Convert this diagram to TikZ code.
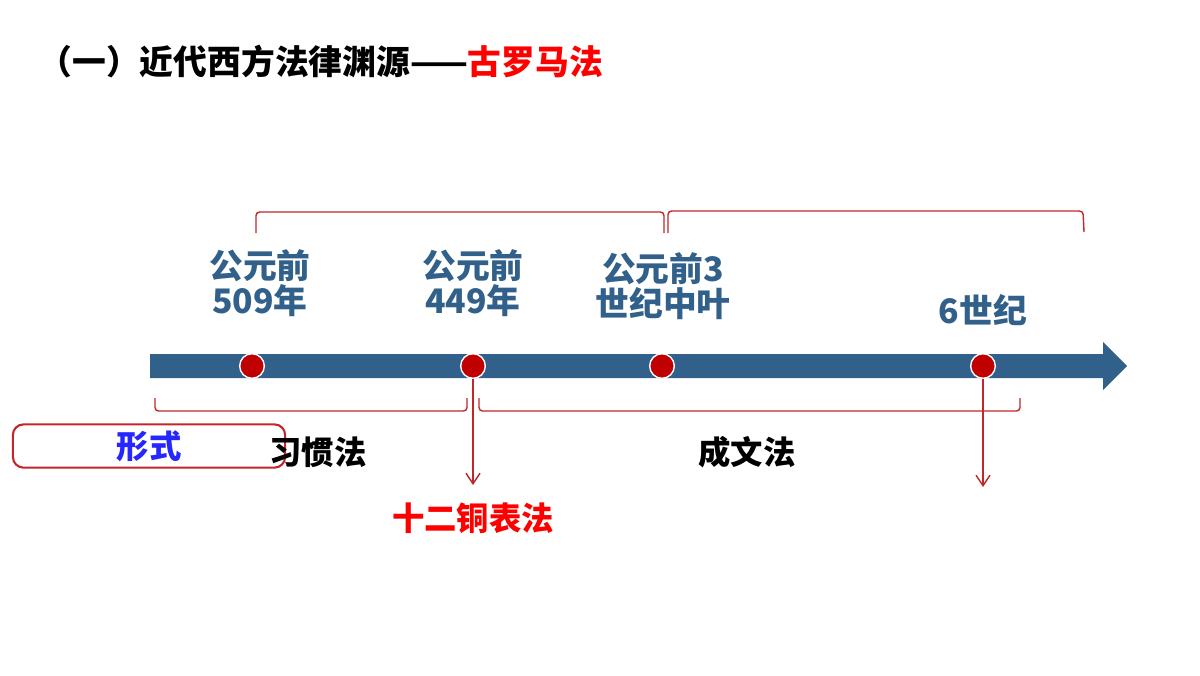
\documentclass[tikz,border=0pt]{standalone}
\usepackage{fontspec}
\setmainfont{Noto Sans CJK SC}
\usetikzlibrary{arrows.meta}
\definecolor{tblue}{HTML}{31608A}
\definecolor{dred}{HTML}{C00000}
\definecolor{lred}{HTML}{C0262A}
\tikzset{
  lab/.style={text=tblue,font=\fontsize{9.6}{11}\selectfont\bfseries,align=center,inner sep=0},
  blk/.style={font=\fontsize{9.2}{11}\selectfont\bfseries,inner sep=0},
  dot/.style={circle,fill=dred,draw=white,line width=0.4pt,minimum size=7pt,inner sep=0},
  brk/.style={draw=lred,line width=0.4pt,rounded corners=1pt},
  dn/.style={draw=lred,line width=0.4pt,-{Straight Barb[length=3pt,width=4pt]}}
}
\begin{document}
\begin{tikzpicture}[x=0.01cm,y=-0.01cm]
\useasboundingbox (0,0) rectangle (1200,675);
\node[anchor=west,blk,font=\fontsize{9.6}{11}\selectfont\bfseries] (title) at (38,62) {（一）近代西方法律渊源——\textcolor{red}{古罗马法}};
\fill[tblue] (150,354) -- (1103,354) -- (1103,342) -- (1127,366) -- (1103,390) -- (1103,378) -- (150,378) -- cycle;
\node[dot] (d1) at (252,366) {};
\node[dot] (d2) at (473,366) {};
\node[dot] (d3) at (662,366) {};
\node[dot] (d4) at (983,366) {};
\node[lab] (l1) at (260,283) {公元前\\[-1pt]509年};
\node[lab] (l2) at (473,283) {公元前\\[-1pt]449年};
\node[lab] (l3) at (663,286) {公元前3\\[-1pt]世纪中叶};
\node[lab] (l4) at (983,310) {6世纪};
\draw[brk] (256,233) -- (256,212) -- (664,212) -- (664,233);
\draw[brk] (668,233) -- (668,211) -- (1083,211) -- (1084,232);
\draw[brk] (155,398) -- (155,411) -- (467,411) -- (467,398);
\draw[brk] (479,398) -- (479,411) -- (1020,411) -- (1020,398);
\coordinate (e2) at (473,485);
\coordinate (e4) at (983,487);
\draw[dn] (d2.south) -- (e2);
\draw[dn] (d4.south) -- (e4);
\node[draw=lred,rounded corners=3pt,minimum width=129\pgflinewidth,line width=0.6pt,inner sep=0,minimum height=1.22cm*0.354] (form) at (149,446) {};
\node[text=blue!85!white,blk] (fx) at (149,446) {形式};
\node[blk] (xg) at (318,452) {习惯法};
\node[blk] (cw) at (747,452) {成文法};
\node[blk,text=red] (sr) at (473,518) {十二铜表法};
\end{tikzpicture}
\end{document}
